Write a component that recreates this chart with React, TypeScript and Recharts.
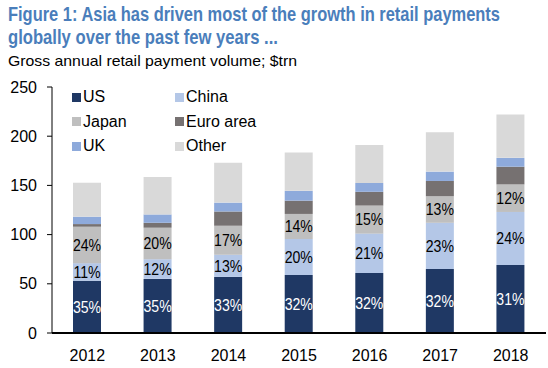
import React from 'react';
import { BarChart, Bar, XAxis, YAxis, LabelList } from 'recharts';

const years = ['2012', '2013', '2014', '2015', '2016', '2017', '2018'];
const us = [53, 55, 57, 59, 61, 65, 69];
const china = [18, 20, 22.5, 36.5, 40, 47, 54];
const japan = [37, 32, 29.5, 25.5, 28.5, 27, 28];
const euro = [2.7, 5, 14.5, 13.5, 14, 15.5, 18];
const uk = [7.5, 8.5, 9, 10, 9, 9.5, 9];
const other = [34.5, 38, 40.5, 39, 38.5, 40, 44];

const usLabels = ['35%', '35%', '33%', '32%', '32%', '32%', '31%'];
const chinaLabels = ['11%', '12%', '13%', '20%', '21%', '23%', '24%'];
const japanLabels = ['24%', '20%', '17%', '14%', '15%', '13%', '12%'];

const yTicks = [0, 50, 100, 150, 200, 250];

const title1 = 'Figure 1: Asia has driven most of the growth in retail payments';
const title2 = 'globally over the past few years ...';
const subtitle = 'Gross annual retail payment volume; $trn';

const C = {
  us: '#1f3864',
  china: '#b4c7e7',
  japan: '#bfbfbf',
  euro: '#767171',
  uk: '#8eaadb',
  other: '#d9d9d9',
};

const legendItems = [
  { name: 'US', color: C.us },
  { name: 'China', color: C.china },
  { name: 'Japan', color: C.japan },
  { name: 'Euro area', color: C.euro },
  { name: 'UK', color: C.uk },
  { name: 'Other', color: C.other },
];

const FONT = "'Liberation Sans', Arial, sans-serif";
const SX = 0.75;

const data = years.map((y, i) => ({
  year: y,
  us: us[i],
  china: china[i],
  japan: japan[i],
  euro: euro[i],
  uk: uk[i],
  other: other[i],
}));

const makeLabel = (labels: string[], color: string) => (props: any) => {
  const { x, y, width, height, index } = props;
  const cx = Number(x) + Number(width) / 2;
  const cy = Number(y) + Number(height) / 2;
  return (
    <g transform={`translate(${cx},${cy}) scale(0.88,1)`}>
      <text x={0} y={0} dy="0.36em" textAnchor="middle" fill={color} fontSize={16} fontFamily={FONT}>
        {labels[index]}
      </text>
    </g>
  );
};

export default function App() {
  return (
    <div style={{ position: 'absolute', left: 0, top: 0, width: 548, height: 368, background: '#fff' }}>
      <svg width={548} height={80} style={{ position: 'absolute', left: 0, top: 0 }}>
        <g transform={`scale(${SX},1)`}>
          <text x={8 / SX} y={21.5} fontSize={20} fontWeight="bold" fill="#4a7ebb" fontFamily={FONT} textLength={492 / SX} lengthAdjust="spacingAndGlyphs">
            {title1}
          </text>
          <text x={8 / SX} y={44.5} fontSize={20} fontWeight="bold" fill="#4a7ebb" fontFamily={FONT} textLength={270 / SX} lengthAdjust="spacingAndGlyphs">
            {title2}
          </text>
        </g>
        <text x={8} y={66} fontSize={15} fill="#000" fontFamily={FONT} textLength={289} lengthAdjust="spacingAndGlyphs">
          {subtitle}
        </text>
      </svg>
      <div style={{ position: 'absolute', left: 0, top: 0 }}>
        <BarChart
          width={548}
          height={368}
          data={data}
          margin={{ top: 87, right: 2, bottom: 5, left: 0 }}
          barSize={28}
        >
          <XAxis
            dataKey="year"
            axisLine={{ stroke: '#000', strokeWidth: 2 }}
            tickLine={false}
            tick={{ fill: '#000', fontSize: 16, fontFamily: FONT }}
            tickMargin={11}
            height={30}
          />
          <YAxis
            domain={[0, 250]}
            ticks={yTicks}
            interval={0}
            width={52}
            axisLine={{ stroke: '#000' }}
            tickLine={{ stroke: '#000' }}
            tickSize={5}
            tickMargin={10}
            tick={{ fill: '#000', fontSize: 16, fontFamily: FONT }}
          />
          <Bar dataKey="us" stackId="a" fill={C.us} isAnimationActive={false}>
            <LabelList dataKey="us" content={makeLabel(usLabels, '#fff')} />
          </Bar>
          <Bar dataKey="china" stackId="a" fill={C.china} isAnimationActive={false}>
            <LabelList dataKey="china" content={makeLabel(chinaLabels, '#000')} />
          </Bar>
          <Bar dataKey="japan" stackId="a" fill={C.japan} isAnimationActive={false}>
            <LabelList dataKey="japan" content={makeLabel(japanLabels, '#000')} />
          </Bar>
          <Bar dataKey="euro" stackId="a" fill={C.euro} isAnimationActive={false} />
          <Bar dataKey="uk" stackId="a" fill={C.uk} isAnimationActive={false} />
          <Bar dataKey="other" stackId="a" fill={C.other} isAnimationActive={false} />
        </BarChart>
      </div>
      <div style={{ position: 'absolute', left: 72, top: 87, width: 220, fontFamily: FONT, fontSize: 16, color: '#000' }}>
        {legendItems.map((it, i) => (
          <div
            key={it.name}
            style={{
              position: 'absolute',
              left: (i % 2) * 103,
              top: Math.floor(i / 2) * 24.5,
              height: 20,
              display: 'flex',
              alignItems: 'center',
              whiteSpace: 'nowrap',
            }}
          >
            <span style={{ display: 'inline-block', width: 9, height: 9, background: it.color, marginRight: 2 }} />
            <span>{it.name}</span>
          </div>
        ))}
      </div>
    </div>
  );
}
